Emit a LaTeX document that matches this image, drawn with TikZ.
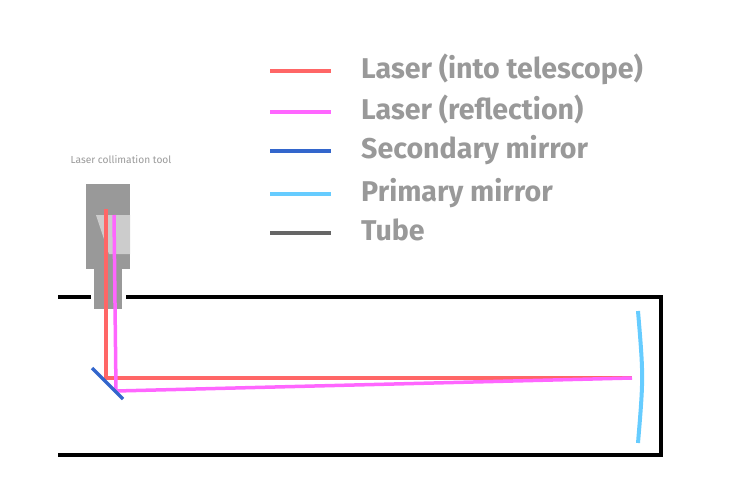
\documentclass[tikz,border=0pt]{standalone}
\usepackage{fontspec}
\setmainfont{Fira Sans}
\definecolor{laserred}{HTML}{FF6666}
\definecolor{lasermag}{HTML}{FF66FF}
\definecolor{secblue}{HTML}{3366CC}
\definecolor{primblue}{HTML}{66CCFF}
\definecolor{tubegray}{HTML}{666666}
\definecolor{txtgray}{HTML}{999999}
\definecolor{toolgray}{HTML}{999999}
\definecolor{toollight}{HTML}{CCCCCC}
\tikzset{
  legline/.style={line width=4pt},
  legtext/.style={anchor=base west, inner sep=0pt, text=txtgray, font=\fontsize{28.6}{32}\selectfont\bfseries},
  tube/.style={line width=4pt, black},
  beam/.style={line width=3.5pt},
}
\begin{document}
\begin{tikzpicture}[x=1pt,y=-1pt]
\useasboundingbox (0,0) rectangle (750,485);
% legend
\foreach \yy/\col/\txt/\nm in {70.7/laserred/{Laser (into telescope)}/l1, 111.7/lasermag/{Laser (reflection)}/l2, 150.7/secblue/{Secondary mirror}/l3, 193.7/primblue/{Primary mirror}/l4, 232.7/tubegray/{Tube}/l5}{
  \draw[legline, \col] (270,\yy) -- (331,\yy);
  \node[legtext] (\nm) at (361,\yy+8) {\txt};
}
% tool label
\node[inner sep=0pt, text=txtgray, font=\fontsize{10.2}{12}\selectfont] (toollabel) at (121,160) {Laser collimation tool};
% collimation tool
\fill[toolgray] (86,184) rectangle (130,269);
\fill[toolgray] (94,269) rectangle (122,309);
\fill[toollight] (96,215) -- (130,215) -- (130,254) -- (109,254) -- cycle;
% tube
\draw[tube] (58,297) -- (91,297);
\draw[tube] (126,297) -- (661,297) -- (661,455) -- (58,455);
% primary mirror
\draw[line width=4pt, primblue] (638,311) .. controls (643.5,377) .. (638,443);
% beams
\draw[beam, laserred] (106,209) -- (106,378) -- (632,378);
\draw[beam, lasermag] (114,215) -- (116,391) -- (632,378);
% secondary mirror
\draw[line width=3.5pt, secblue] (92,368) -- (123,399);
\end{tikzpicture}
\end{document}
